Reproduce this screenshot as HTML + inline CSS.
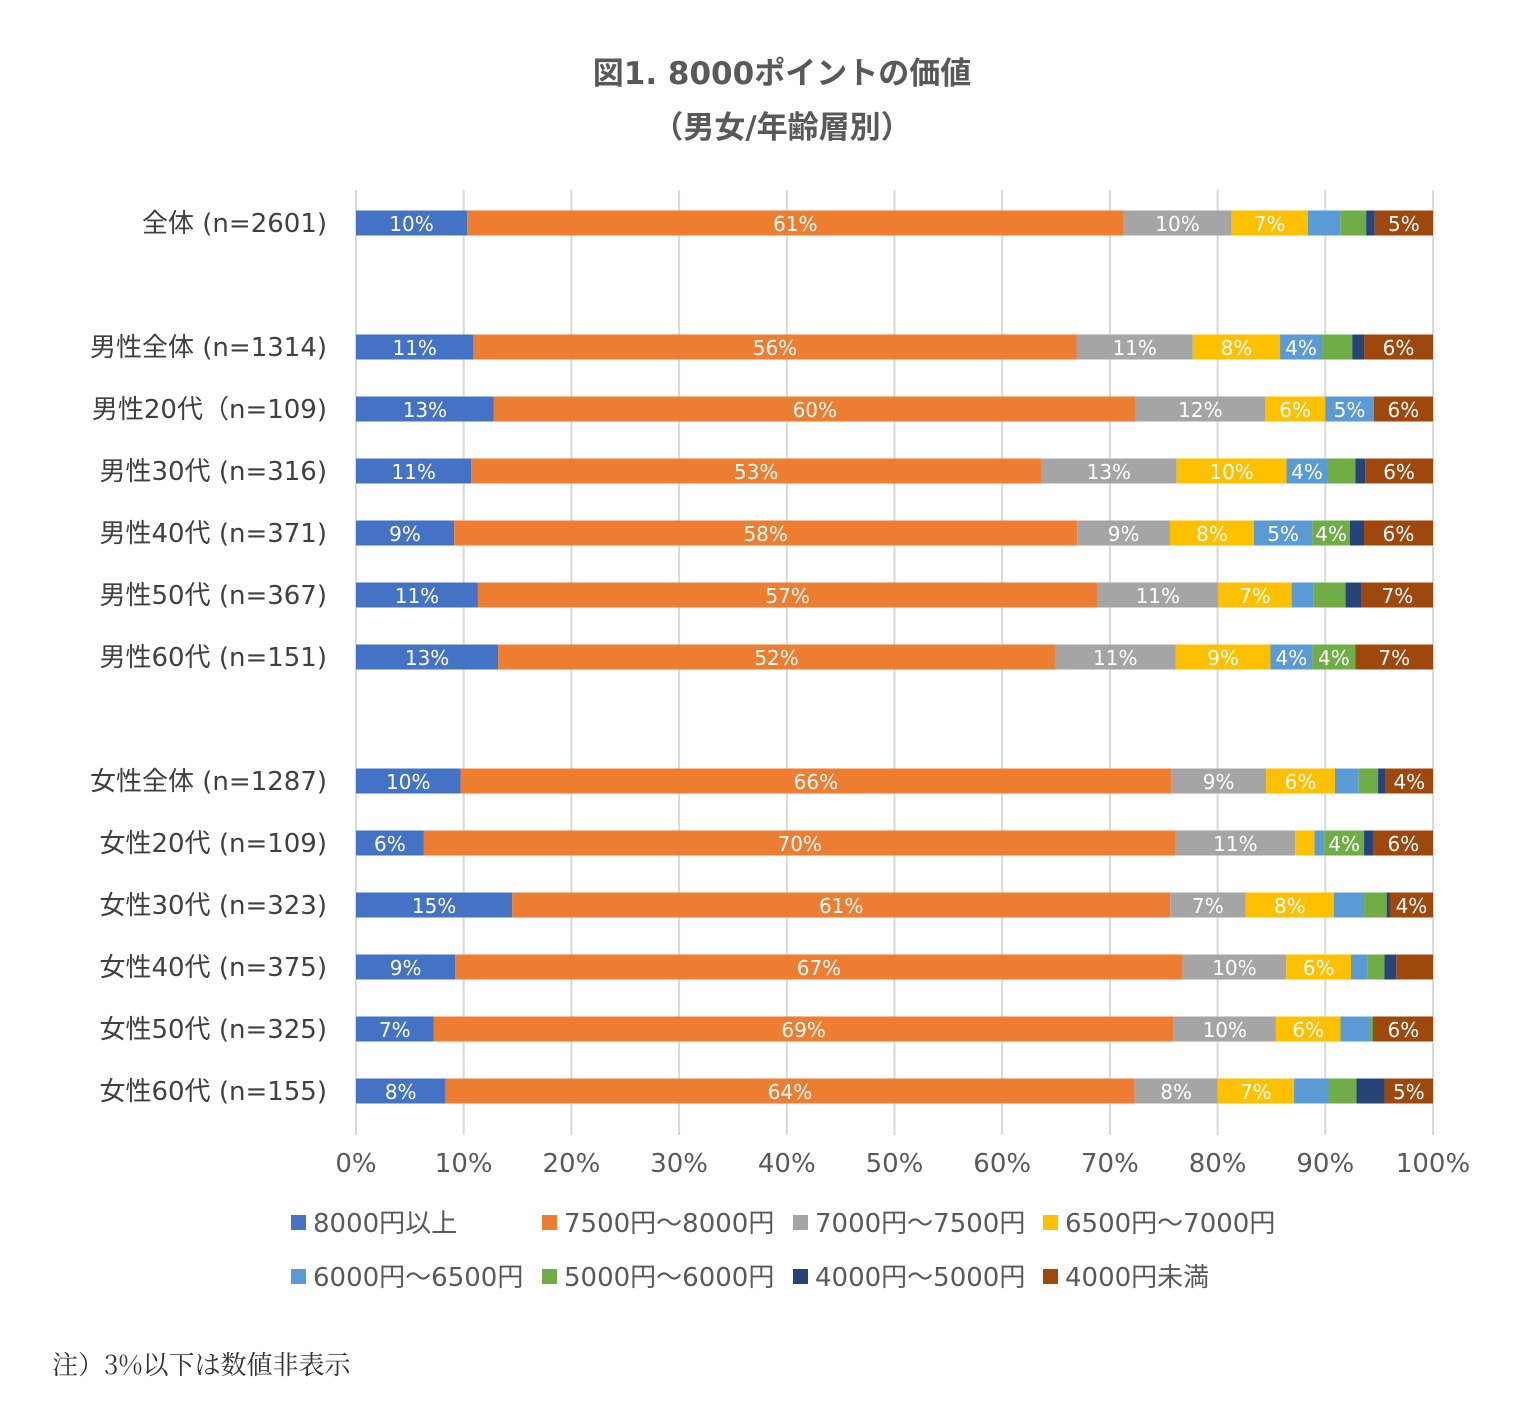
<!DOCTYPE html>
<html><head><meta charset="utf-8"><style>
body{margin:0;background:#fff;}
svg text{font-family:"DejaVu Sans","Noto Sans CJK JP",sans-serif;}
</style></head><body>
<svg id="chart" width="1537" height="1414" xmlns="http://www.w3.org/2000/svg">
<rect width="1537" height="1414" fill="#fff"/>
<text x="782" y="84" text-anchor="middle" font-size="31" font-weight="bold" fill="#595959">図1. 8000ポイントの価値</text>
<text x="782" y="138" text-anchor="middle" font-size="31" font-weight="bold" fill="#595959">（男女/年齢層別）</text>
<g id="grid"></g><g id="bars"></g><g id="cats"></g><g id="ticks"></g><g id="legend"></g>
<text x="52" y="1374" font-size="26" fill="#333" style="font-family:'Noto Serif CJK SC','Liberation Serif',serif">注）3%以下は数値非表示</text>
</svg>
<script>
const categories=["全体 (n=2601)","","男性全体 (n=1314)","男性20代（n=109)","男性30代 (n=316)","男性40代 (n=371)","男性50代 (n=367)","男性60代 (n=151)","","女性全体 (n=1287)","女性20代 (n=109)","女性30代 (n=323)","女性40代 (n=375)","女性50代 (n=325)","女性60代 (n=155)"];
const seriesNames=["8000円以上","7500円～8000円","7000円～7500円","6500円～7000円","6000円～6500円","5000円～6000円","4000円～5000円","4000円未満"];
const s1=[10.3,null,10.9,12.8,10.7,9.1,11.3,13.2,null,9.7,6.3,14.5,9.2,7.2,8.3];
const s2=[60.9,null,56.0,59.6,52.9,57.8,57.4,51.7,null,66.0,69.8,61.1,67.4,68.8,64.0];
const s3=[10.0,null,10.8,12.0,12.6,8.6,11.2,11.2,null,8.8,11.1,7.0,9.6,9.5,7.7];
const s4=[7.1,null,8.1,5.6,10.2,7.8,6.8,8.8,null,6.4,1.8,8.2,6.0,6.0,7.1];
const s5=[3.0,null,3.9,4.5,3.8,5.4,2.0,3.9,null,2.2,0.9,2.8,1.5,2.7,3.2];
const s6=[2.4,null,2.8,0,2.6,3.5,3.0,4.0,null,1.8,3.7,2.1,1.6,0.3,2.6];
const s7=[0.8,null,1.1,0,0.9,1.3,1.5,0,null,0.7,0.9,0.3,1.1,0.1,2.6];
const s8=[5.4,null,6.4,5.5,6.3,6.4,6.6,7.2,null,4.4,5.5,4.0,3.4,5.5,4.5];
const tickLabels=["0%","10%","20%","30%","40%","50%","60%","70%","80%","90%","100%"];
const series=[s1,s2,s3,s4,s5,s6,s7,s8];
const colors=["#4472C4","#ED7D31","#A5A5A5","#FFC000","#5B9BD5","#70AD47","#264478","#9E480E"];
const NS="http://www.w3.org/2000/svg";
const x0=356,x1=1433,yTop=190,yBot=1135;
const xs=v=>x0+(x1-x0)*v/100;
const yc=i=>223+62*i;
function mk(t,a,p){const e=document.createElementNS(NS,t);for(const k in a)e.setAttribute(k,a[k]);p.appendChild(e);return e;}
const grid=document.getElementById('grid');
tickLabels.forEach((t,i)=>{
 const l=mk('line',{x1:xs(i*10),x2:xs(i*10),y1:yTop,y2:yBot,stroke:'#d9d9d9','stroke-width':2},grid);
 
 
 const tx=mk('text',{x:xs(i*10),y:1172,'text-anchor':'middle','font-size':26,fill:'#595959'},document.getElementById('ticks'));
 tx.textContent=t;
 
 
});
const bars=document.getElementById('bars');
categories.forEach((c,i)=>{
 if(s1[i]===null)return;
 const ct=mk('text',{x:327,y:yc(i)+9,'text-anchor':'end','font-size':26,fill:'#404040'},document.getElementById('cats'));
 ct.textContent=c;
 
 
 const total=series.reduce((a,s)=>a+s[i],0);
 const sc=100/total;
 let cum=0;
 series.forEach((s,k)=>{
  const v=s[i];
  const r=mk('rect',{x:xs(cum*sc),y:yc(i)-12.5,width:xs((cum+v)*sc)-xs(cum*sc),height:25,fill:colors[k]},bars);
  
  
  if(Math.round(v)>3){
   const t=mk('text',{x:xs((cum+v/2)*sc),y:yc(i)+8,'text-anchor':'middle','font-size':20,fill:'#fff'},bars);
   t.textContent=Math.round(v)+'%';
   
   
  }
  cum+=v;
 });
});
const lg=document.getElementById('legend');
const lx=[291,542,793,1043];
seriesNames.forEach((n,k)=>{
 const x=lx[k%4],y=k<4?1223:1277;
 const g=mk('g',{},lg);
 
 
 mk('rect',{x:x,y:y-8,width:15,height:15,fill:colors[k]},g);
 const t=mk('text',{x:x+22,y:y+9,'font-size':26,fill:'#595959'},g);
 t.textContent=n;
});
</script>
</body></html>
